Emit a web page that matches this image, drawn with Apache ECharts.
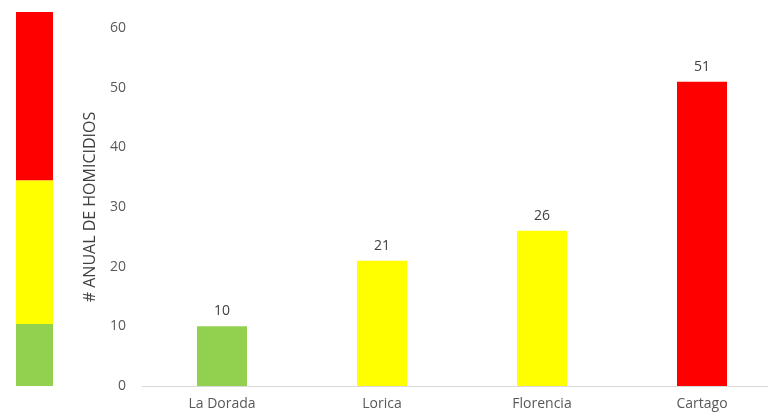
<!DOCTYPE html>
<html>
<head>
<meta charset="utf-8">
<script src="https://cdn.jsdelivr.net/npm/echarts@6/dist/echarts.min.js"></script>
<style>
  html, body { margin: 0; padding: 0; background: #fff; overflow: hidden; }
  /* plot runs slightly past the right edge of the window */
  #chart { width: 782px; height: 416px; }
</style>
</head>
<body>
<div id="chart"></div>
<script>
// Annual homicides per city
var cities = ['La Dorada', 'Lorica', 'Florencia', 'Cartago'];
var homicides = [10, 21, 26, 51];
var barColors = ['#92d050', '#ffff00', '#ffff00', '#ff0000'];

// Risk scale strip: upper limit of each band (low, medium, high)
var bandNames = ['Bajo', 'Medio', 'Alto'];
var bandLimits = [10.4, 34.5, 62.7];
var bandColors = ['#92d050', '#ffff00', '#ff0000'];

var yTicks = [0, 10, 20, 30, 40, 50, 60];

var font = 'Open Sans';
var textGray = '#595959';

var bandSeries = bandLimits.map(function (lim, i) {
  var size = lim - (i === 0 ? 0 : bandLimits[i - 1]);
  return {
    name: bandNames[i],
    type: 'bar',
    xAxisIndex: 1,
    yAxisIndex: 1,
    stack: 'scale',
    barWidth: '100%',
    itemStyle: { color: bandColors[i] },
    silent: true,
    data: [size]
  };
});

var chart = echarts.init(document.getElementById('chart'), null, { renderer: 'canvas' });
chart.setOption({
  animation: false,
  backgroundColor: '#ffffff',
  grid: [
    { left: 142, right: 0, top: 28, bottom: 30 },
    { left: 16, width: 37, top: 12, bottom: 30 }
  ],
  xAxis: [
    {
      type: 'category',
      gridIndex: 0,
      data: cities,
      axisLine: { lineStyle: { color: '#d9d9d9', width: 1 } },
      axisTick: { show: false },
      axisLabel: { color: textGray, fontFamily: font, fontSize: 14, margin: 11 }
    },
    {
      type: 'category',
      gridIndex: 1,
      data: ['escala'],
      show: false
    }
  ],
  yAxis: [
    {
      type: 'value',
      gridIndex: 0,
      min: yTicks[0],
      max: yTicks[yTicks.length - 1],
      interval: 10,
      name: '# ANUAL DE HOMICIDIOS',
      nameLocation: 'middle',
      nameGap: 44,
      nameTextStyle: { color: '#404040', fontFamily: font, fontSize: 16 },
      axisLine: { show: false },
      axisTick: { show: false },
      splitLine: { show: false },
      axisLabel: { color: textGray, fontFamily: font, fontSize: 14, margin: 16 }
    },
    {
      type: 'value',
      gridIndex: 1,
      min: 0,
      max: bandLimits[bandLimits.length - 1],
      show: false
    }
  ],
  series: [
    {
      name: 'Homicidios',
      type: 'bar',
      xAxisIndex: 0,
      yAxisIndex: 0,
      barWidth: 50,
      data: homicides.map(function (v, i) {
        return { value: v, itemStyle: { color: barColors[i] } };
      }),
      label: {
        show: true,
        position: 'top',
        distance: 8,
        color: '#404040',
        fontFamily: font,
        fontSize: 14
      }
    }
  ].concat(bandSeries)
});
</script>
</body>
</html>
